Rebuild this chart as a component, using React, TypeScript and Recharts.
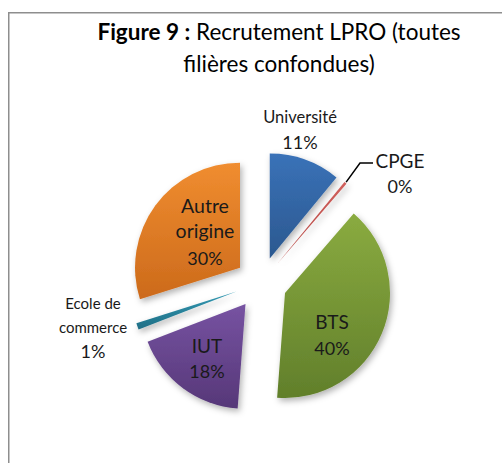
import { PieChart, Pie, Cell, Sector } from "recharts";

const categories = ["Université", "CPGE", "BTS", "IUT", "Ecole de commerce", "Autre origine"];
const shares = [11, 0.4, 40, 18, 1, 30];
const titleBold = "Figure 9 :";
const titleRest = "Recrutement LPRO (toutes";
const titleLine2 = "filières confondues)";

const data = categories.map((name, i) => ({ name, value: shares[i] }));

// top / bottom of each slice's gradient
const COLORS = [
  ["#3a72b8", "#2b588f"],
  ["#d0605c", "#b04340"],
  ["#8aab40", "#617f2b"],
  ["#7753a2", "#563778"],
  ["#3399b3", "#1f6e85"],
  ["#f08d30", "#cc6a1b"],
];

const FONT = "Lato, 'Open Sans', sans-serif";
const CX = 261;
const CY = 283;
const R = 105;
const EXPLODE = 26;
const RAD = Math.PI / 180;

type LabelCfg = { lines: string[]; dx: number; baselines: number[]; nameSize: number };
const LABELS: Record<string, LabelCfg> = {
  "Université": { lines: ["Université"], dx: 39, baselines: [-160, -134], nameSize: 16.5 },
  CPGE: { lines: ["CPGE"], dx: 139, baselines: [-115, -90], nameSize: 19 },
  BTS: { lines: ["BTS"], dx: 71, baselines: [46, 72], nameSize: 19 },
  IUT: { lines: ["IUT"], dx: -54, baselines: [70, 95], nameSize: 19 },
  "Ecole de commerce": { lines: ["Ecole de", "commerce"], dx: -168, baselines: [26, 50, 75], nameSize: 15 },
  "Autre origine": { lines: ["Autre", "origine"], dx: -56, baselines: [-70, -45, -18], nameSize: 19.5 },
};

function offset(midAngle: number) {
  return { x: EXPLODE * Math.cos(-midAngle * RAD), y: EXPLODE * Math.sin(-midAngle * RAD) };
}

function renderSlice(props: any) {
  const { cx, cy, innerRadius, outerRadius, startAngle, endAngle, midAngle, index } = props;
  const o = offset(midAngle);
  return (
    <Sector
      key={`s${index}`}
      cx={cx + o.x}
      cy={cy + o.y}
      innerRadius={innerRadius}
      outerRadius={outerRadius}
      startAngle={startAngle}
      endAngle={endAngle}
      fill={`url(#grad${index})`}
      filter="url(#shadow)"
    />
  );
}

function renderText(props: any) {
  const { cx, cy, outerRadius, midAngle, percent, name, index } = props;
  const cfg = LABELS[name];
  if (!cfg) return null;
  const x = cx + cfg.dx;
  const pct = `${Math.round(percent * 100)}%`;
  let leader = null;
  if (name === "CPGE") {
    const o = offset(midAngle);
    const sx = cx + o.x + (outerRadius + 1) * Math.cos(-midAngle * RAD);
    const sy = cy + o.y + (outerRadius + 1) * Math.sin(-midAngle * RAD);
    leader = (
      <polyline
        points={`${sx},${sy} ${cx + 99},${cy - 120} ${cx + 112},${cy - 120}`}
        fill="none"
        stroke="#000"
        strokeWidth={1.5}
      />
    );
  }
  return (
    <g key={`t${index}`} fontFamily={FONT} fill="#1a1a1a">
      {leader}
      {cfg.lines.map((l, i) => (
        <text key={i} x={x} y={cy + cfg.baselines[i]} textAnchor="middle" fontSize={cfg.nameSize}>
          {l}
        </text>
      ))}
      <text x={x} y={cy + cfg.baselines[cfg.lines.length]} textAnchor="middle" fontSize={18}>
        {pct}
      </text>
    </g>
  );
}

export default function App() {
  return (
    <div style={{ position: "absolute", left: 0, top: 0, width: 502, height: 463, background: "#fff", overflow: "hidden" }}>
      <PieChart width={502} height={463} margin={{ top: 0, right: 0, bottom: 0, left: 0 }}>
        <defs>
          {COLORS.map((c, i) => (
            <linearGradient key={i} id={`grad${i}`} x1="0" y1="0" x2="0" y2="1">
              <stop offset="0%" stopColor={c[0]} />
              <stop offset="100%" stopColor={c[1]} />
            </linearGradient>
          ))}
          <filter id="shadow" x="-30%" y="-30%" width="160%" height="160%">
            <feDropShadow dx="2" dy="3" stdDeviation="3" floodColor="#000" floodOpacity="0.3" />
          </filter>
        </defs>
        <path d="M8.75 463 V12.75 H502" fill="none" stroke="#8e8e8e" strokeWidth={1.5} />
        <text x={279} y={40} textAnchor="middle" fontFamily={FONT} fontSize={22.5} fill="#000">
          <tspan fontWeight="bold">{titleBold}</tspan>
          <tspan> {titleRest}</tspan>
        </text>
        <text x={279} y={72} textAnchor="middle" fontFamily={FONT} fontSize={22.5} fill="#000">
          {titleLine2}
        </text>
        <Pie
          data={data}
          dataKey="value"
          nameKey="name"
          cx={CX}
          cy={CY}
          outerRadius={R}
          startAngle={90}
          endAngle={-270}
          stroke="none"
          label={renderSlice}
          labelLine={false}
          isAnimationActive={false}
        >
          {data.map((_, i) => <Cell key={i} fill="none" />)}
        </Pie>
        <Pie
          data={data}
          dataKey="value"
          nameKey="name"
          cx={CX}
          cy={CY}
          outerRadius={R}
          startAngle={90}
          endAngle={-270}
          stroke="none"
          label={renderText}
          labelLine={false}
          isAnimationActive={false}
        >
          {data.map((_, i) => <Cell key={i} fill="none" />)}
        </Pie>
      </PieChart>
    </div>
  );
}
